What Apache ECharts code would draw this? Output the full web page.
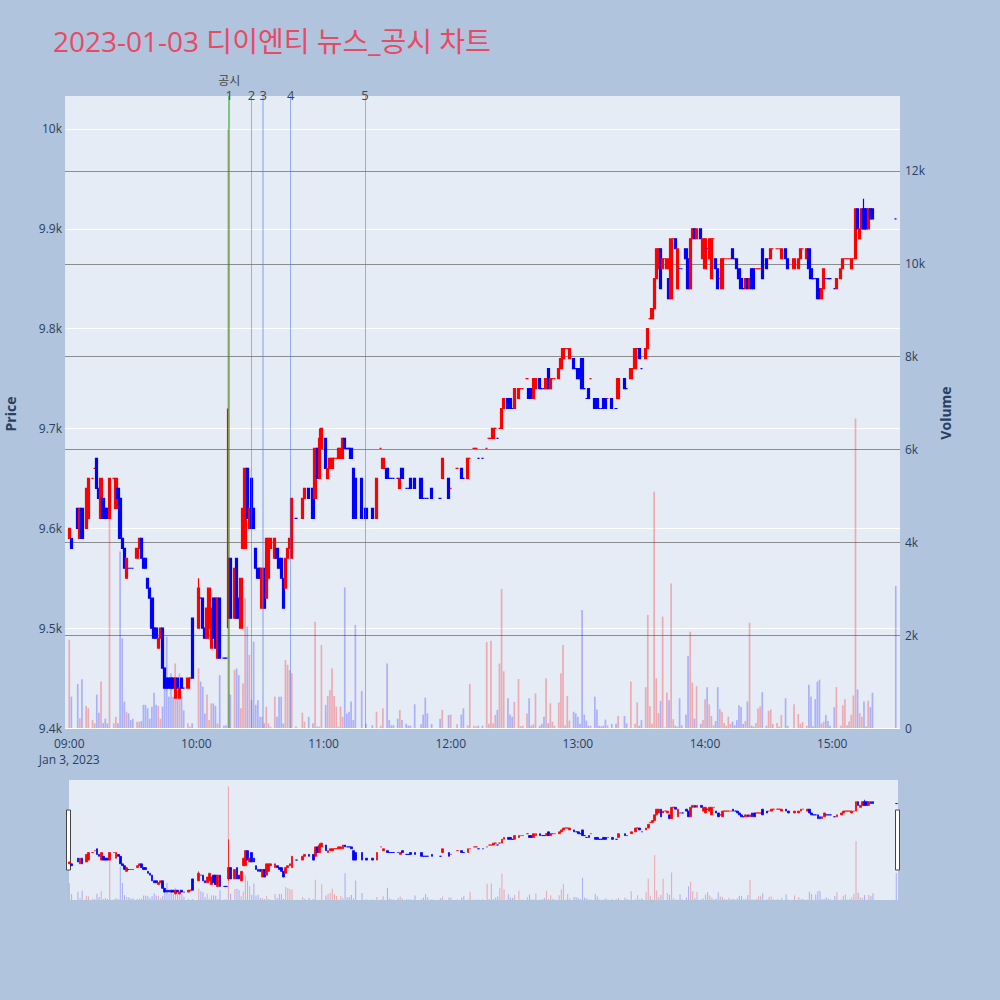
<!DOCTYPE html>
<html><head><meta charset="utf-8">
<script src="https://cdn.jsdelivr.net/npm/echarts@6/dist/echarts.min.js"></script>
<style>html,body{margin:0;padding:0;background:#b0c4de;} #chart{width:1000px;height:1000px;}</style>
</head><body><div id="chart"></div>
<script>
// rows: [minutes after 09:00, open, close, volume]
const rows09 = [
[0,9590,9600,1900],[1,9590,9580,675],[4,9620,9600,950],[5,9590,9620,210],[6,9620,9590,1050],
[8,9600,9640,475],[9,9610,9650,425],[11,9650,9650,170],[12,9660,9660,100],[13,9670,9640,720],
[14,9640,9630,330],[15,9610,9650,1000],[16,9630,9610,110],[17,9620,9610,200],[18,9620,9610,100],
[19,9610,9650,5300],[21,9650,9650,100],[22,9620,9650,240],[23,9640,9630,100],[24,9630,9590,3800],
[25,9590,9580,1930],[26,9580,9560,570],[27,9550,9570,350],[28,9560,9560,315],[29,9560,9560,170],
[30,9560,9560,200],[32,9570,9580,135],[33,9580,9590,135],[34,9590,9570,150],[35,9570,9560,500],
[36,9570,9560,500],[37,9550,9540,425],[38,9540,9530,200],[39,9530,9500,460],[40,9500,9490,760],
[41,9500,9490,500],[42,9480,9490,475],[43,9490,9500,200],[44,9500,9460,460],[45,9460,9440,1320],
[46,9450,9440,1970],[47,9450,9440,675],[48,9450,9440,1180],[49,9450,9440,675],[50,9430,9450,1390],
[51,9450,9440,820],[52,9430,9440,1180],[53,9450,9440,675],[54,9440,9440,380],[56,9440,9450,100],
[57,9450,9450,30],[58,9510,9450,100]
];
const rows10 = [
[61,9500,9540,1285],[62,9530,9530,1000],[63,9530,9500,890],[64,9500,9490,315],[65,9490,9520,720],
[66,9500,9540,170],[67,9480,9520,530],[68,9530,9490,530],[69,9530,9480,475],[70,9470,9530,100],
[71,9530,9470,1140],[73,9470,9470,50],[74,9470,9470,60],[75,9510,9570,12900],[76,9570,9510,720],
[78,9510,9560,1250],[79,9570,9510,1285],[80,9530,9510,1140],[81,9500,9550,425],[82,9580,9620,960],
[83,9580,9660,2795],[84,9660,9610,2185],[85,9600,9620,1575],[86,9650,9600,600],[87,9620,9600,1860],
[88,9580,9560,500],[89,9560,9550,600],[90,9560,9550,240],[91,9520,9560,240],[92,9560,9520,100],
[93,9530,9590,460],[94,9550,9590,100],[95,9580,9590,30],[97,9570,9590,675],[98,9580,9570,240],
[99,9570,9560,675],[100,9570,9550,675],[101,9550,9520,100],[102,9540,9570,1465],[103,9570,9580,1360],
[104,9580,9590,1250],[105,9570,9630,1180],[107,9610,9610,30],[110,9610,9630,330],[111,9630,9640,135],
[113,9640,9630,240],[115,9640,9610,100],[116,9630,9680,2290],[117,9680,9650,30],[118,9650,9690,30],
[119,9680,9700,1790]
];
const rows11 = [
[121,9690,9660,500],[122,9650,9660,690],[123,9660,9670,820],[124,9660,9670,1285],[125,9670,9670,690],
[126,9670,9670,460],[127,9670,9680,30],[128,9670,9680,460],[129,9670,9690,240],[130,9690,9680,3030],
[131,9680,9680,315],[132,9680,9680,350],[133,9680,9670,570],[134,9660,9610,170],[135,9650,9610,2220],
[138,9650,9610,800],[140,9620,9610,90],[143,9620,9610,60],[145,9610,9650,350],[147,9680,9680,50],
[148,9660,9670,425],[150,9660,9650,1390],[151,9650,9650,170],[152,9650,9650,60],[153,9650,9650,60],
[155,9650,9650,200],[156,9640,9650,390],[157,9660,9650,170],[159,9640,9640,90],[160,9640,9640,50],
[161,9650,9640,50],[163,9650,9640,510],[166,9650,9630,80],[167,9630,9630,290],[168,9630,9630,655],
[169,9630,9630,315],[171,9640,9630,90],[175,9630,9630,200],[176,9650,9670,390],[179,9650,9630,280]
];
const rows12 = [
[180,9640,9640,290],[183,9660,9660,80],[185,9660,9650,290],[186,9650,9650,425],[188,9650,9670,60],
[189,9670,9670,950],[191,9680,9680,50],[192,9680,9680,30],[193,9670,9670,50],[195,9670,9670,50],
[197,9680,9680,1850],[198,9690,9690,90],[199,9690,9690,1880],[200,9690,9700,100],[201,9700,9700,280],
[202,9690,9690,390],[203,9700,9700,1390],[204,9700,9720,2995],[205,9720,9730,1220],[207,9730,9720,640],
[208,9730,9720,290],[209,9720,9720,240],[210,9720,9740,560],[212,9730,9740,1055],[213,9740,9740,40],
[214,9740,9740,50],[216,9750,9750,315],[217,9740,9730,640],[218,9740,9730,50],[219,9730,9750,80],
[220,9740,9750,745],[222,9750,9740,50],[223,9740,9740,90],[224,9740,9740,240],[225,9740,9750,1070],
[226,9760,9740,100],[227,9740,9750,530],[228,9750,9750,135],[229,9750,9750,50],[231,9750,9760,550],
[232,9760,9770,1180],[233,9770,9780,1790],[234,9780,9780,60],[235,9780,9780,690],[236,9770,9780,160],
[238,9770,9760,350],[239,9760,9760,315]
];
const rows13 = [
[240,9760,9750,240],[241,9750,9750,90],[242,9770,9740,2540],[243,9740,9740,290],[244,9730,9730,160],
[245,9740,9730,50],[246,9750,9750,50],[248,9730,9720,675],[249,9730,9720,400],[250,9720,9720,50],
[251,9720,9720,40],[252,9730,9720,50],[253,9730,9720,180],[254,9730,9730,55],[256,9730,9720,90],
[258,9720,9720,90],[259,9730,9750,260],[262,9750,9740,260],[263,9740,9740,100],[265,9750,9760,1000],
[267,9760,9780,90],[268,9780,9780,550],[269,9780,9770,50],[270,9760,9760,170],[272,9770,9780,880],
[273,9780,9800,2435],[274,9810,9810,470],[275,9810,9820,90],[276,9820,9850,5090],[277,9850,9880,1070],
[278,9860,9880,320],[279,9880,9840,580],[280,9860,9870,2400],[281,9870,9870,10],[282,9860,9870,760],
[283,9850,9830,600],[284,9830,9890,3115],[285,9890,9890,190],[286,9890,9880,50],[287,9840,9880,30],
[288,9860,9860,640],[289,9860,9860,60],[291,9880,9870,290],[292,9870,9840,1550],[293,9840,9890,2075],
[294,9890,9900,980],[295,9900,9890,200],[296,9890,9900,900],[298,9900,9890,90],[299,9870,9890,170]
];
const rows14 = [
[300,9860,9890,620],[301,9880,9880,880],[302,9870,9890,510],[303,9850,9890,260],[304,9890,9890,60],
[305,9870,9860,150],[306,9860,9840,880],[307,9850,9850,410],[308,9840,9870,350],[309,9870,9870,110],
[310,9870,9870,50],[311,9870,9870,245],[312,9870,9870,90],[313,9880,9870,140],[314,9870,9870,60],
[315,9870,9860,170],[316,9860,9850,490],[317,9850,9840,450],[318,9840,9840,90],[319,9840,9850,150],
[320,9850,9840,570],[321,9840,9850,2270],[322,9860,9840,50],[323,9860,9840,30],[324,9860,9860,110],
[325,9860,9860,420],[326,9860,9860,470],[327,9880,9850,770],[329,9870,9860,50],[330,9870,9870,370],
[331,9870,9880,400],[332,9880,9880,90],[334,9880,9880,110],[335,9880,9880,30],[336,9870,9880,280],
[338,9880,9870,640],[339,9870,9860,50],[342,9860,9870,510],[344,9860,9870,300],[345,9870,9880,90],
[346,9880,9880,130],[348,9870,9880,50],[349,9880,9860,930],[350,9860,9850,680],[351,9850,9850,40],
[352,9850,9850,620],[353,9850,9830,1000],[354,9840,9830,1040],[355,9830,9840,100],[356,9840,9860,140],
[357,9850,9850,280],[358,9850,9850,150],[359,9850,9850,50]
];
const rows15 = [
[361,9840,9840,450],[362,9840,9850,880],[364,9850,9860,50],[365,9860,9870,490],[366,9870,9870,620],
[367,9870,9870,60],[368,9870,9870,140],[369,9860,9870,290],[370,9870,9870,700],[371,9870,9920,6670],
[372,9920,9900,830],[373,9890,9900,320],[374,9900,9920,245],[375,9920,9900,570],[376,9920,9900,30],
[377,9900,9920,590],[378,9920,9910,450],[379,9920,9910,760],[390,9910,9910,3060]
];
// wick extremes beyond the body
const wickHigh = {61: 9550, 75: 9720, 118: 9700, 129: 9690, 375: 9930};
const wickLow = {75: 9500};

// x-axis tick labels
const tickMinutes = [0, 60, 120, 180, 240, 300, 360];
const tickLabels = ['09:00\nJan 3, 2023', '10:00', '11:00', '12:00', '13:00', '14:00', '15:00'];

// announcements (minutes after 09:00)
const noticeMinutes = [75.5, 86, 91.5, 104.5, 139.5];
const noticeLabels = ['{k|공시}\n{n|1}', '{n|2}', '{n|3}', '{n|4}', '{n|5}'];

const UP = '#ff0000', DOWN = '#0000ff';
const rows = [].concat(rows09, rows10, rows11, rows12, rows13, rows14, rows15);
const candleData = [], volData = [];
let prevClose = null, prevColor = UP;
rows.forEach(([m, o, c, v]) => {
  let col;
  if (c > o) col = UP; else if (c < o) col = DOWN;
  else if (prevClose !== null && c > prevClose) col = UP;
  else if (prevClose !== null && c < prevClose) col = DOWN;
  else col = prevColor;
  const hi = wickHigh[m] !== undefined ? wickHigh[m] : Math.max(o, c);
  const lo = wickLow[m] !== undefined ? wickLow[m] : Math.min(o, c);
  candleData.push({value: [m, o, c, lo, hi],
    itemStyle: {color: col, color0: col, borderColor: col, borderColor0: col, borderColorDoji: col}});
  volData.push({value: [m, v], itemStyle: {color: col === UP ? 'rgba(255,0,0,0.28)' : 'rgba(0,0,255,0.25)'}});
  prevClose = c; prevColor = col;
});

const FONT = '"Open Sans", "Noto Sans CJK KR", sans-serif';
const TXT = '#2a3f5f';
const chart = echarts.init(document.getElementById('chart'), null, {renderer: 'svg', width: 1000, height: 1000});

const noticeLines = noticeMinutes.map((m, i) => ({
  xAxis: m,
  lineStyle: i === 0 ? {color: 'rgba(0,150,0,0.45)', width: 2, type: 'solid'}
           : i === 2 ? {color: 'rgba(100,140,240,0.4)', width: 2, type: 'solid'}
           : {color: 'rgba(70,110,230,0.5)', width: 1, type: 'solid'},
  label: {formatter: noticeLabels[i]}
}));

const option = {
  backgroundColor: '#b0c4de',
  animation: false,
  textStyle: {fontFamily: FONT},
  title: {text: '2023-01-03 디이엔티 뉴스_공시 차트', left: 48, top: 19,
    textStyle: {fontFamily: FONT, fontSize: 28, fontWeight: 'normal', color: '#e84a64', lineHeight: 34}},
  grid: [
    {left: 65, top: 96, width: 835, height: 632, show: true, backgroundColor: '#e5ecf6', borderWidth: 0},
    {left: 69, top: 780, width: 829, height: 120, show: true, backgroundColor: '#e5ecf6', borderWidth: 0}
  ],
  xAxis: [
    {type: 'value', gridIndex: 0, min: -2, max: 392,
     axisLine: {show: false}, axisTick: {show: false}, splitLine: {show: false},
     axisLabel: {customValues: tickMinutes, formatter: v => tickLabels[tickMinutes.indexOf(v)] || '',
       color: TXT, fontSize: 12, margin: 7, lineHeight: 16, fontFamily: FONT}},
    {type: 'value', gridIndex: 1, min: -0.2, max: 390.8, show: false, splitLine: {show: false}}
  ],
  yAxis: [
    {type: 'value', gridIndex: 0, position: 'left', min: 9400, max: 10033, interval: 100,
     axisLine: {show: false}, axisTick: {show: false},
     axisLabel: {formatter: v => (v % 100 === 0 ? (v / 1000) + 'k' : ''), color: TXT, fontSize: 12, margin: 3, showMaxLabel: false, fontFamily: FONT},
     splitLine: {showMaxLine: false, lineStyle: {color: '#ffffff', width: 1}}},
    {type: 'value', gridIndex: 0, position: 'right', min: 0, max: 13615, interval: 2000,
     axisLine: {show: false}, axisTick: {show: false},
     axisLabel: {formatter: v => (v === 0 ? '0' : (v % 2000 === 0 ? (v / 1000) + 'k' : '')), color: TXT, fontSize: 12, margin: 5, showMaxLabel: false, fontFamily: FONT},
     splitLine: {showMaxLine: false, showMinLine: false, lineStyle: {color: '#8c8c8c', width: 1}}},
    {type: 'value', gridIndex: 1, min: 9398, max: 10035, show: false, splitLine: {show: false}},
    {type: 'value', gridIndex: 1, min: 0, max: 13615, show: false, splitLine: {show: false}}
  ],
  series: [
    {type: 'bar', name: 'Volume', xAxisIndex: 0, yAxisIndex: 1, data: volData, barWidth: 1.7, z: 1, silent: true},
    {type: 'candlestick', name: 'Price', xAxisIndex: 0, yAxisIndex: 0, data: candleData,
     encode: {x: 0, y: [1, 2, 3, 4]}, barWidth: 2.8, z: 3,
     itemStyle: {borderWidth: 1.2},
     markLine: {symbol: ['none', 'none'], silent: true, animation: false,
       label: {show: true, position: 'end', distance: -5, color: '#444', fontFamily: FONT,
         rich: {k: {fontSize: 12, lineHeight: 17, color: '#444', fontFamily: FONT},
                n: {fontSize: 13, lineHeight: 12, color: '#444', fontFamily: FONT}}},
       data: noticeLines}},
    {type: 'bar', xAxisIndex: 1, yAxisIndex: 3, data: volData, barWidth: 1.1, z: 1, silent: true},
    {type: 'candlestick', xAxisIndex: 1, yAxisIndex: 2, data: candleData,
     encode: {x: 0, y: [1, 2, 3, 4]}, barWidth: 2.2, z: 3, itemStyle: {borderWidth: 0.8}, silent: true}
  ],
  graphic: [
    {type: 'text', x: 10, y: 414, rotation: Math.PI / 2,
     style: {text: 'Price', font: 'bold 14px ' + FONT, fill: TXT, align: 'center', verticalAlign: 'middle'}},
    {type: 'text', x: 945, y: 413, rotation: Math.PI / 2,
     style: {text: 'Volume', font: 'bold 14px ' + FONT, fill: TXT, align: 'center', verticalAlign: 'middle'}},
    {type: 'rect', shape: {x: 66.5, y: 810, width: 4, height: 60}, style: {fill: '#ffffff', stroke: '#444', lineWidth: 1}},
    {type: 'rect', shape: {x: 895.5, y: 810, width: 4, height: 60}, style: {fill: '#ffffff', stroke: '#444', lineWidth: 1}}
  ]
};
chart.setOption(option);
</script></body></html>
